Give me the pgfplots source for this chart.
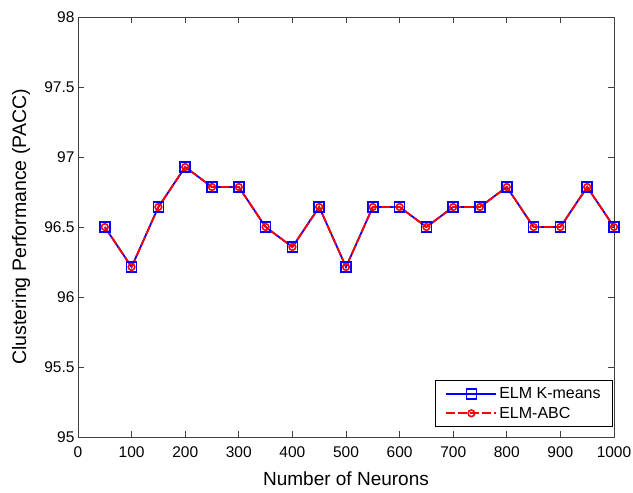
\documentclass[border=0pt]{standalone}
\usepackage{fontspec}
\setmainfont{Liberation Sans}
\usepackage{pgfplots}
\pgfplotsset{compat=1.18}
\begin{document}
\begin{tikzpicture}
\useasboundingbox (-78pt,-56pt) rectangle (555pt,437pt);
\begin{axis}[
  at={(0,0)}, anchor=south west,
  scale only axis, width=536pt, height=420pt,
  xmin=0, xmax=1000, ymin=95, ymax=98,
  xtick={0,100,...,1000}, ytick={95,95.5,...,98},
  tick align=inside, major tick length=6pt,
  axis line style={draw=black!75, line width=0.7pt},
  tick style={draw=black!75, line width=0.7pt},
  /pgf/number format/assume math mode=true,
  /pgf/number format/1000 sep={},
  ticklabel style={font=\fontsize{15.5}{18}\selectfont},
  xticklabel style={anchor=base, yshift=-21pt},
  xlabel={Number of Neurons}, ylabel={Clustering Performance (PACC)},
  every axis x label/.style={font=\fontsize{19}{22}\selectfont, at={(axis description cs:0.5,-0.1143)}, anchor=base},
  every axis y label/.style={font=\fontsize{19.5}{22}\selectfont, at={(axis description cs:-0.097,0.5)}, anchor=base, rotate=90},
  legend style={at={(1,0)}, anchor=south east, xshift=-1pt, yshift=10pt, draw=black, line width=0.7pt, font=\fontsize{16}{19}\selectfont, inner xsep=10pt, inner ysep=5pt, row sep=3pt, cells={anchor=west}},
  legend image code/.code={\draw[mark repeat=2,mark phase=2] plot coordinates {(0pt,0pt)(25pt,0pt)(50pt,0pt)};},
]
\addplot[blue, line width=1.8pt, mark=square, mark size=5pt, mark options={solid, line width=1.6pt}] coordinates {
(50,96.5)(100,96.2143)(150,96.6429)(200,96.9286)(250,96.7857)(300,96.7857)(350,96.5)(400,96.3571)(450,96.6429)(500,96.2143)
(550,96.6429)(600,96.6429)(650,96.5)(700,96.6429)(750,96.6429)(800,96.7857)(850,96.5)(900,96.5)(950,96.7857)(1000,96.5)};
\addlegendentry{ELM K-means}
\addplot[red, line width=1.8pt, dash pattern=on 9pt off 3pt, mark=o, mark size=3.3pt, mark options={solid, line width=1.6pt, fill=white}] coordinates {
(50,96.5)(100,96.2143)(150,96.6429)(200,96.9286)(250,96.7857)(300,96.7857)(350,96.5)(400,96.3571)(450,96.6429)(500,96.2143)
(550,96.6429)(600,96.6429)(650,96.5)(700,96.6429)(750,96.6429)(800,96.7857)(850,96.5)(900,96.5)(950,96.7857)(1000,96.5)};
\addlegendentry{ELM-ABC}
\end{axis}
\end{tikzpicture}
\end{document}
